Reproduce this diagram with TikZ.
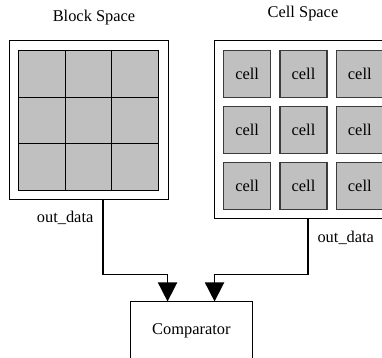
\documentclass[tikz,border=0pt]{standalone}
\usepackage{fontspec}
\setmainfont{Liberation Serif}
\usetikzlibrary{arrows.meta}
\definecolor{cellgray}{RGB}{192,192,192}
\definecolor{celledge}{RGB}{60,60,60}
\tikzset{
  every node/.style={font=\fontsize{8.2pt}{10pt}\selectfont},
  spacebox/.style={draw, line width=0.5pt, inner sep=0pt},
  blockcell/.style={draw, fill=cellgray, line width=0.5pt, minimum size=23.25pt, inner sep=0pt},
  cellcell/.style={draw=celledge, fill=cellgray, line width=0.6pt, minimum size=23.5pt, inner sep=0pt},
  compbox/.style={draw, line width=0.5pt, minimum width=60.65pt, minimum height=28.5pt, inner sep=0pt},
  flow/.style={-{Triangle[length=9.5pt,width=9.5pt]}, line width=0.85pt}
}
\begin{document}
\begin{tikzpicture}[x=0.5pt,y=-0.5pt]
      \useasboundingbox (0,0) rectangle (382,358);
      \clip (0,0) rectangle (382,358);
      \draw
        (88.8,120.5) node[spacebox, minimum width=79.25pt, minimum height=79.5pt] (blockspace){}
        (303.5,130) node[spacebox, minimum size=89pt] (cellspace){}
        (191.4,330.5) node[compbox] (comp){Comparator}
        (94,18) node (blocktitle){Block Space}
        (303,14) node (celltitle){Cell Space};
      \draw
        (42.1,74.2) node[blockcell] (b11){}
        (88.6,74.2) node[blockcell] (b12){}
        (135.1,74.2) node[blockcell] (b13){}
        (42.1,120.7) node[blockcell] (b21){}
        (88.6,120.7) node[blockcell] (b22){}
        (135.1,120.7) node[blockcell] (b23){}
        (42.1,167.2) node[blockcell] (b31){}
        (88.6,167.2) node[blockcell] (b32){}
        (135.1,167.2) node[blockcell] (b33){};
      \draw
        (247.2,74.3) node[cellcell] (c11){cell}
        (303.5,74.3) node[cellcell] (c12){cell}
        (359.8,74.3) node[cellcell] (c13){cell}
        (247.2,130) node[cellcell] (c21){cell}
        (303.5,130) node[cellcell] (c22){cell}
        (359.8,130) node[cellcell] (c23){cell}
        (247.2,185.8) node[cellcell] (c31){cell}
        (303.5,185.8) node[cellcell] (c32){cell}
        (359.8,185.8) node[cellcell] (c33){cell};
      \begin{scope}[flow]
        \draw ([xshift=7pt]blockspace.south) -- ++(0,74)
          node[pos=0.23, left, inner sep=4.3pt] (blockout){out\_data}
          -| ([xshift=18.65pt]comp.north west);
        \draw ([xshift=2.1pt]cellspace.south) -- ++(0,55)
          node[pos=0.33, right, inner sep=4.5pt] (cellout){out\_data}
          -| ([xshift=42.15pt]comp.north west);
      \end{scope}
    \end{tikzpicture}
\end{document}
